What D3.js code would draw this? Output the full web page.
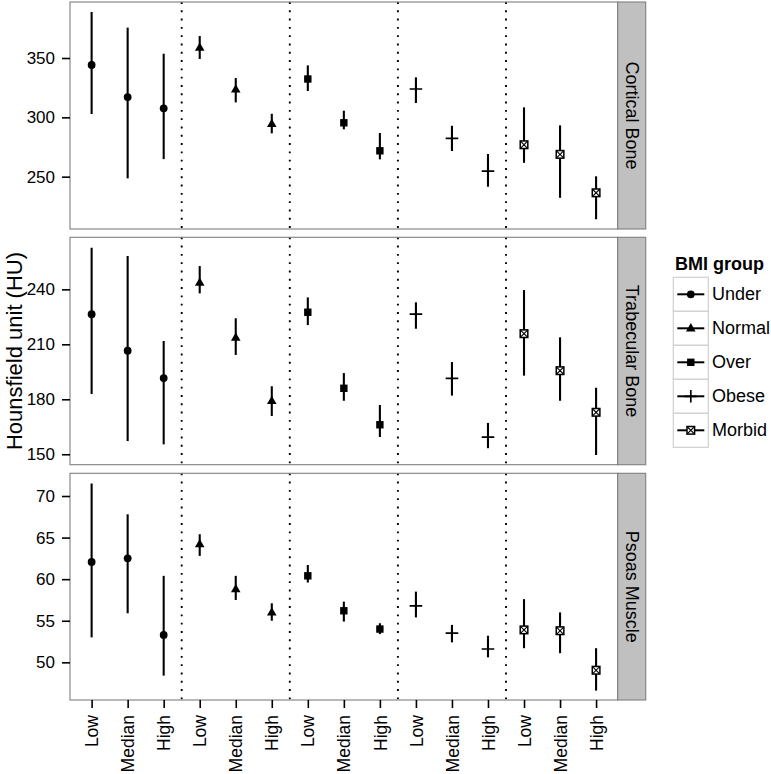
<!DOCTYPE html>
<html>
<head>
<meta charset="utf-8">
<script src="https://cdn.jsdelivr.net/npm/d3@7"></script>
<style>
  body { margin: 0; background: #fff; }
  svg text { font-family: "Liberation Sans", Arial, Helvetica, sans-serif; fill: #000; }
</style>
</head>
<body>
<svg id="chart" width="771" height="774"></svg>
<script>
// ---------- data ----------
const levels = ["Low", "Median", "High"];
const groups = ["Under", "Normal", "Over", "Obese", "Morbid"];
const panels = ["Cortical Bone", "Trabecular Bone", "Psoas Muscle"];

// order within each panel: Under(L,M,H), Normal(L,M,H), Over(L,M,H), Obese(L,M,H), Morbid(L,M,H)
const corticalMean = [344.1, 317.1, 307.6, 358.7, 323.6, 294.4, 332.3, 295.4, 271.8, 323.9, 282.3, 254.7, 276.9, 268.8, 236.4];
const corticalLow  = [302.8, 248.6, 264.8, 349.2, 312.6, 286.5, 322.2, 289.9, 264.6, 312.1, 271.6, 241.5, 261.7, 232.2, 214.1];
const corticalHigh = [388.8, 375.6, 353.6, 368.5, 333.1, 303.0, 343.8, 305.6, 286.8, 333.7, 292.9, 269.1, 308.4, 293.2, 250.3];

const trabecularMean = [226.4, 206.5, 191.6, 243.6, 213.6, 179.1, 227.5, 186.0, 166.1, 226.5, 191.4, 159.3, 215.8, 195.6, 172.9];
const trabecularLow  = [182.9, 157.2, 155.4, 237.8, 204.2, 170.9, 220.5, 179.2, 159.4, 218.5, 182.0, 153.3, 192.9, 179.2, 149.6];
const trabecularHigh = [262.7, 258.2, 211.8, 252.7, 224.2, 187.1, 235.6, 194.3, 176.9, 232.9, 200.3, 167.1, 239.6, 213.8, 186.3];

const psoasMean = [62.07, 62.5, 53.3, 64.2, 58.8, 56.0, 60.4, 56.2, 54.0, 56.8, 53.5, 51.6, 53.9, 53.8, 49.05];
const psoasLow  = [53.0, 55.9, 48.4, 62.8, 57.5, 55.0, 59.6, 54.9, 53.4, 55.4, 52.4, 50.6, 51.7, 51.1, 46.6];
const psoasHigh = [71.5, 67.8, 60.4, 65.4, 60.4, 57.1, 61.7, 57.3, 54.7, 58.5, 54.5, 53.2, 57.6, 56.0, 51.7];

const corticalTicks = [250, 300, 350];
const trabecularTicks = [150, 180, 210, 240];
const psoasTicks = [50, 55, 60, 65, 70];

const yAxisTitle = "Hounsfield unit (HU)";
const legendTitle = "BMI group";

// ---------- layout ----------
const svg = d3.select("#chart");
const plotLeft = 70, plotRight = 617.7;
const stripW = 28;
const panelBoxes = [[2, 229], [237.3, 464.7], [473.3, 700]];
const panelDomains = [[205.9, 397.2], [144.3, 268.4], [45.47, 72.73]];
const panelData = [
  { mean: corticalMean, lo: corticalLow, hi: corticalHigh, ticks: corticalTicks },
  { mean: trabecularMean, lo: trabecularLow, hi: trabecularHigh, ticks: trabecularTicks },
  { mean: psoasMean, lo: psoasLow, hi: psoasHigh, ticks: psoasTicks }
];

const keys = [];
groups.forEach(g => levels.forEach(l => keys.push(g + "|" + l)));

const x = d3.scalePoint().domain(keys).range([plotLeft, plotRight]).padding(0.6);

const tickFont = 17;
const xTickFont = 17.5;
const stripFont = 18;
const legendFont = 18;

// ---------- marker drawing ----------
function drawMarker(sel, group, cx, cy) {
  const g = sel.append("g").attr("transform", `translate(${cx},${cy})`);
  if (group === "Under") {
    g.append("circle").attr("r", 3.9).attr("fill", "#000");
  } else if (group === "Normal") {
    g.append("path").attr("d", "M0,-5.2 L4.8,3.1 L-4.8,3.1 Z").attr("fill", "#000");
  } else if (group === "Over") {
    g.append("rect").attr("x", -3.7).attr("y", -3.7).attr("width", 7.4).attr("height", 7.4).attr("fill", "#000");
  } else if (group === "Obese") {
    g.append("path").attr("d", "M-6.3,0 H6.3 M0,-6.3 V6.3").attr("stroke", "#000").attr("stroke-width", 1.7).attr("fill", "none");
  } else if (group === "Morbid") {
    g.append("rect").attr("x", -3.8).attr("y", -3.8).attr("width", 7.6).attr("height", 7.6)
      .attr("fill", "#fff").attr("stroke", "#000").attr("stroke-width", 1.5);
    g.append("path").attr("d", "M-3.8,-3.8 L3.8,3.8 M3.8,-3.8 L-3.8,3.8").attr("stroke", "#000").attr("stroke-width", 1.1);
  }
}

// ---------- panels ----------
panelData.forEach((pd, pi) => {
  const [top, bottom] = panelBoxes[pi];
  const y = d3.scaleLinear().domain(panelDomains[pi]).range([bottom, top]);
  const g = svg.append("g");

  g.append("rect").attr("x", plotLeft).attr("y", top).attr("width", plotRight - plotLeft).attr("height", bottom - top)
    .attr("fill", "#fff");

  // dotted separators
  [3, 6, 9, 12].forEach(i => {
    const xs = (x(keys[i - 1]) + x(keys[i])) / 2;
    g.append("line").attr("x1", xs).attr("x2", xs).attr("y1", top).attr("y2", bottom)
      .attr("stroke", "#000").attr("stroke-width", 1.9).attr("stroke-dasharray", "1.9,6.4");
  });

  // error bars
  keys.forEach((k, i) => {
    const xc = x(k);
    g.append("line").attr("x1", xc).attr("x2", xc).attr("y1", y(pd.lo[i])).attr("y2", y(pd.hi[i]))
      .attr("stroke", "#000").attr("stroke-width", 2.1);
  });
  // markers
  keys.forEach((k, i) => {
    const grp = k.split("|")[0];
    drawMarker(g, grp, x(k), y(pd.mean[i]));
  });

  // border
  g.append("rect").attr("x", plotLeft).attr("y", top).attr("width", plotRight - plotLeft).attr("height", bottom - top)
    .attr("fill", "none").attr("stroke", "#7f7f7f").attr("stroke-width", 1.1);

  // strip
  g.append("rect").attr("x", plotRight).attr("y", top).attr("width", stripW).attr("height", bottom - top)
    .attr("fill", "#c0c0c0").attr("stroke", "#7f7f7f").attr("stroke-width", 1.1);
  const sx = plotRight + stripW / 2, sy = (top + bottom) / 2;
  g.append("text").attr("transform", `translate(${sx},${sy}) rotate(90)`)
    .attr("text-anchor", "middle").attr("dominant-baseline", "central")
    .style("font-size", stripFont + "px").text(panels[pi]);

  // y axis
  const ax = svg.append("g").attr("transform", `translate(${plotLeft},0)`)
    .call(d3.axisLeft(y).tickValues(pd.ticks).tickSize(8).tickPadding(7).tickFormat(d3.format("d")));
  ax.select(".domain").remove();
  ax.selectAll(".tick line").attr("stroke", "#000").attr("stroke-width", 1.6);
  ax.selectAll(".tick text").style("font-size", tickFont + "px").attr("fill", "#000");

  // x axis for bottom panel
  if (pi === panelData.length - 1) {
    const xa = svg.append("g").attr("transform", `translate(0,${bottom})`)
      .call(d3.axisBottom(x).tickSize(8).tickFormat(k => k.split("|")[1]));
    xa.select(".domain").remove();
    xa.selectAll(".tick line").attr("stroke", "#000").attr("stroke-width", 1.6);
    xa.selectAll(".tick text")
      .style("font-size", xTickFont + "px").attr("fill", "#000")
      .attr("transform", "rotate(-90)")
      .attr("x", -15).attr("y", 0).attr("dy", "0.35em")
      .attr("text-anchor", "end");
  }
});

// ---------- y axis title ----------
svg.append("text")
  .attr("transform", `translate(14,${(panelBoxes[0][0] + panelBoxes[2][1]) / 2}) rotate(-90)`)
  .attr("text-anchor", "middle").attr("dominant-baseline", "central")
  .style("font-size", "22px").text(yAxisTitle);

// ---------- legend ----------
const lg = svg.append("g");
lg.append("text").attr("x", 675).attr("y", 270).style("font-size", legendFont + "px").style("font-weight", "bold").text(legendTitle);
const keyX = 673.3, keyW = 35, keyH = 34, keyTop = 277.3;
groups.forEach((grp, i) => {
  const ky = keyTop + i * keyH;
  lg.append("rect").attr("x", keyX).attr("y", ky).attr("width", keyW).attr("height", keyH)
    .attr("fill", "#fff").attr("stroke", "#d0d0d0").attr("stroke-width", 1.2);
  lg.append("line").attr("x1", keyX + 4).attr("x2", keyX + keyW - 4).attr("y1", ky + keyH / 2).attr("y2", ky + keyH / 2)
    .attr("stroke", "#000").attr("stroke-width", 2);
  drawMarker(lg, grp, keyX + keyW / 2, ky + keyH / 2);
  lg.append("text").attr("x", 712).attr("y", ky + keyH / 2).attr("dominant-baseline", "central")
    .style("font-size", legendFont + "px").text(grp);
});
</script>
</body>
</html>
